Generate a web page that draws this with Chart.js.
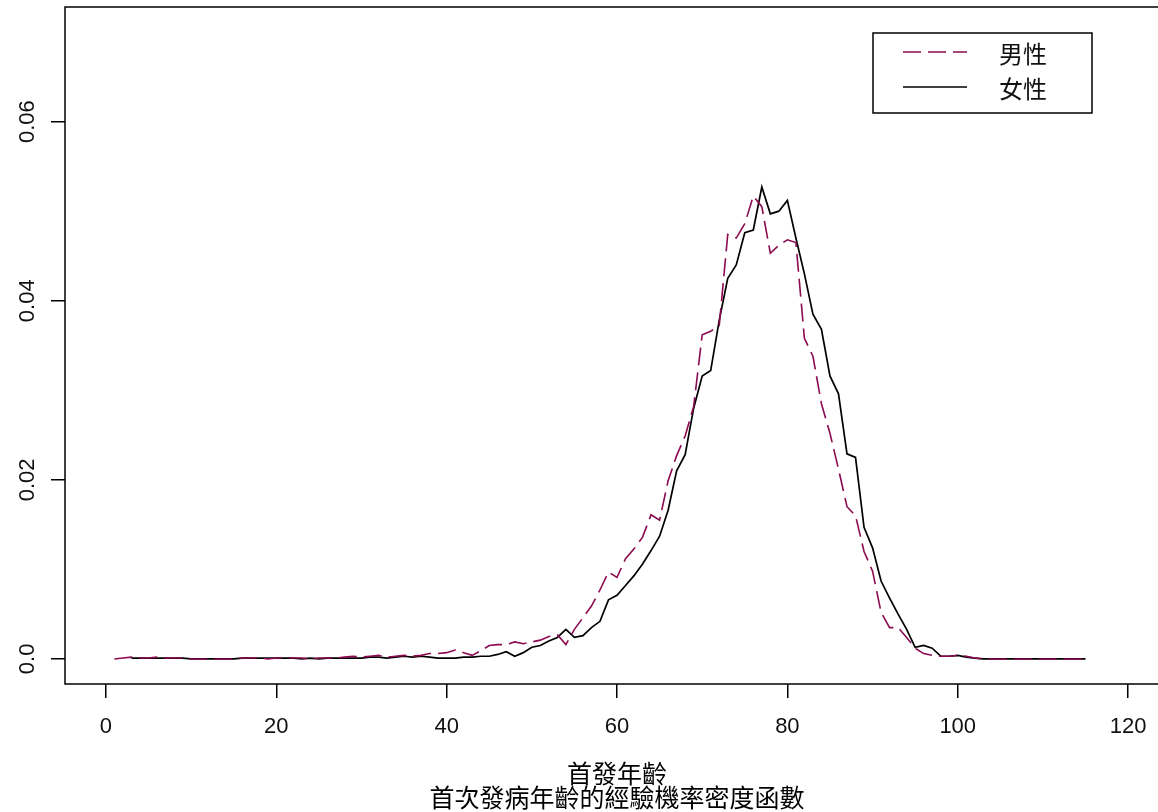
<!DOCTYPE html>
<html>
<head>
<meta charset="utf-8">
<script src="https://cdn.jsdelivr.net/npm/chart.js@4/dist/chart.umd.min.js"></script>
<style>
  html, body { margin: 0; padding: 0; background: #fff; overflow: hidden; }
  #wrap { width: 1158px; height: 812px; overflow: hidden; }
</style>
</head>
<body>
<div id="wrap"><canvas id="canvas" width="1180" height="812"></canvas></div>
<script>
// age axis (years) and density per age
const ages = [1,2,3,4,5,6,7,8,9,10,11,12,13,14,15,16,17,18,19,20,
  21,22,23,24,25,26,27,28,29,30,31,32,33,34,35,36,37,38,39,40,
  41,42,43,44,45,46,47,48,49,50,51,52,53,54,55,56,57,58,59,60,
  61,62,63,64,65,66,67,68,69,70,71,72,73,74,75,76,77,78,79,80,
  81,82,83,84,85,86,87,88,89,90,91,92,93,94,95,96,97,98,99,100,
  101,102,103,104,105,106,107,108,109,110,111,112,113,114,115];

const male = [0.0000,0.0001,0.0002,0.0001,0.0001,0.0002,0.0001,0.0001,0.0001,0.0000,
  0.0000,0.0000,0.0000,0.0000,0.0000,0.0001,0.0001,0.0001,0.0000,0.0001,
  0.0001,0.0001,0.0001,0.0000,0.0001,0.0001,0.0001,0.0002,0.0003,0.0002,
  0.0003,0.0004,0.0002,0.0003,0.0004,0.0003,0.0004,0.0006,0.0006,0.0007,
  0.0010,0.0007,0.0004,0.0009,0.0015,0.0016,0.0016,0.0019,0.0017,0.0019,
  0.0021,0.0025,0.0027,0.0016,0.0033,0.0046,0.0059,0.0077,0.0097,0.0091,
  0.0112,0.0123,0.0136,0.0161,0.0155,0.0199,0.0227,0.0249,0.0282,0.0362,
  0.0366,0.0372,0.0474,0.0470,0.0486,0.0517,0.0505,0.0453,0.0462,0.0468,
  0.0465,0.0358,0.0338,0.0285,0.0252,0.0212,0.0170,0.0160,0.0120,0.0098,
  0.0052,0.0035,0.0035,0.0024,0.0012,0.0006,0.0004,0.0003,0.0003,0.0004,
  0.0003,0.0001,0,0,0,0,0,0,0,0,0,0,0,0,0];

const female = [null,null,0.0001,0.0001,0.0001,0.0001,0.0001,0.0001,0.0001,0.0000,
  0.0000,0.0000,0.0000,0.0000,0.0000,0.0001,0.0001,0.0001,0.0001,0.0001,
  0.0001,0.0001,0.0000,0.0001,0.0000,0.0001,0.0001,0.0001,0.0001,0.0001,
  0.0002,0.0002,0.0001,0.0002,0.0003,0.0002,0.0003,0.0002,0.0001,0.0001,
  0.0001,0.0002,0.0002,0.0003,0.0003,0.0005,0.0008,0.0003,0.0007,0.0013,
  0.0015,0.0020,0.0024,0.0033,0.0024,0.0026,0.0035,0.0042,0.0066,0.0071,
  0.0082,0.0093,0.0106,0.0121,0.0137,0.0166,0.0210,0.0228,0.0280,0.0316,
  0.0322,0.0378,0.0425,0.0440,0.0476,0.0479,0.0527,0.0497,0.0500,0.0512,
  0.0470,0.0430,0.0385,0.0368,0.0316,0.0296,0.0229,0.0225,0.0147,0.0124,
  0.0087,0.0068,0.0050,0.0033,0.0013,0.0015,0.0012,0.0003,0.0003,0.0004,
  0.0002,0.0001,0,0,0,0,0,0,0,0,0,0,0,0,0];

const xTicks = [0, 20, 40, 60, 80, 100, 120];
const yTicks = [0, 0.02, 0.04, 0.06];
const yTickLabels = ['0.0', '0.02', '0.04', '0.06'];
const seriesNames = ['男性', '女性'];
const xTitle = '首發年齡';
const subTitle = '首次發病年齡的經驗機率密度函數';

const latin = '"Liberation Sans", Arial, sans-serif';
const cjk = '"Noto Sans CJK TC", "Noto Sans CJK SC", sans-serif';

function toPoints(vals) {
    return ages.map(function (a, i) { return { x: a, y: vals[i] }; });
}

// box, rotated y labels and the R style legend
const extras = {
    id: 'extras',
    afterDraw(chart) {
        const ctx = chart.ctx;
        const area = chart.chartArea;
        const ys = chart.scales.y;
        ctx.save();
        ctx.strokeStyle = '#000';
        ctx.lineWidth = 1.5;
        ctx.strokeRect(area.left, area.top, area.right - area.left, area.bottom - area.top);

        ctx.fillStyle = '#111';
        ctx.font = '22px ' + latin;
        ctx.textAlign = 'center';
        ctx.textBaseline = 'middle';
        for (let i = 0; i < yTicks.length; i++) {
            const py = ys.getPixelForValue(yTicks[i]);
            ctx.save();
            ctx.translate(area.left - 37, py);
            ctx.rotate(-Math.PI / 2);
            ctx.fillText(yTickLabels[i], 0, 0);
            ctx.restore();
        }

        // legend
        const lx = 873, ly = 33;
        ctx.lineWidth = 1.5;
        ctx.strokeRect(lx, ly, 219, 80);
        const rows = [52, 87];
        chart.data.datasets.forEach(function (ds, i) {
            ctx.save();
            ctx.strokeStyle = ds.borderColor;
            ctx.lineWidth = ds.borderWidth;
            ctx.setLineDash(ds.borderDash || []);
            ctx.beginPath();
            ctx.moveTo(lx + 30, ly + rows[i] - 33);
            ctx.lineTo(lx + 94, ly + rows[i] - 33);
            ctx.stroke();
            ctx.restore();
            ctx.font = '24px ' + cjk;
            ctx.textAlign = 'left';
            ctx.fillText(ds.label, lx + 126, ly + rows[i] - 31);
        });
        ctx.restore();
    }
};

const ctx = document.getElementById('canvas').getContext('2d');
const myChart = new Chart(ctx, {
    type: 'line',
    data: {
        datasets: [{
            label: seriesNames[0],
            data: toPoints(male),
            borderColor: '#8B0A50',
            borderWidth: 1.6,
            borderDash: [18, 7],
            pointRadius: 0,
            tension: 0,
            fill: false
        }, {
            label: seriesNames[1],
            data: toPoints(female),
            borderColor: '#000000',
            borderWidth: 1.7,
            pointRadius: 0,
            tension: 0,
            fill: false,
            spanGaps: false
        }]
    },
    options: {
        responsive: false,
        devicePixelRatio: 1,
        animation: false,
        layout: { padding: { top: 7, right: 11, left: 0, bottom: 0 } },
        plugins: {
            legend: { display: false },
            tooltip: { enabled: false }
        },
        scales: {
            x: {
                type: 'linear',
                min: -4.8,
                max: 124.8,
                afterBuildTicks: function (scale) {
                    scale.ticks = xTicks.map(function (v) { return { value: v }; });
                },
                afterFit: function (scale) { scale.height = 128; },
                grid: {
                    drawOnChartArea: false,
                    drawTicks: true,
                    tickLength: 14,
                    color: '#000',
                    lineWidth: 1.5
                },
                border: { display: false },
                ticks: {
                    color: '#111',
                    font: { family: latin, size: 22 },
                    padding: 16,
                    maxRotation: 0,
                    autoSkip: false
                },
                title: {
                    display: true,
                    text: [xTitle, subTitle],
                    color: '#000',
                    font: { family: cjk, size: 25, lineHeight: '24px' },
                    padding: { top: 0, bottom: 3 }
                }
            },
            y: {
                type: 'linear',
                min: -0.0028,
                max: 0.0728,
                afterBuildTicks: function (scale) {
                    scale.ticks = yTicks.map(function (v) { return { value: v }; });
                },
                afterFit: function (scale) { scale.width = 65; },
                grid: {
                    drawOnChartArea: false,
                    drawTicks: true,
                    tickLength: 14,
                    color: '#000',
                    lineWidth: 1.5
                },
                border: { display: false },
                ticks: { display: false }
            }
        }
    },
    plugins: [extras]
});
</script>
</body>
</html>
